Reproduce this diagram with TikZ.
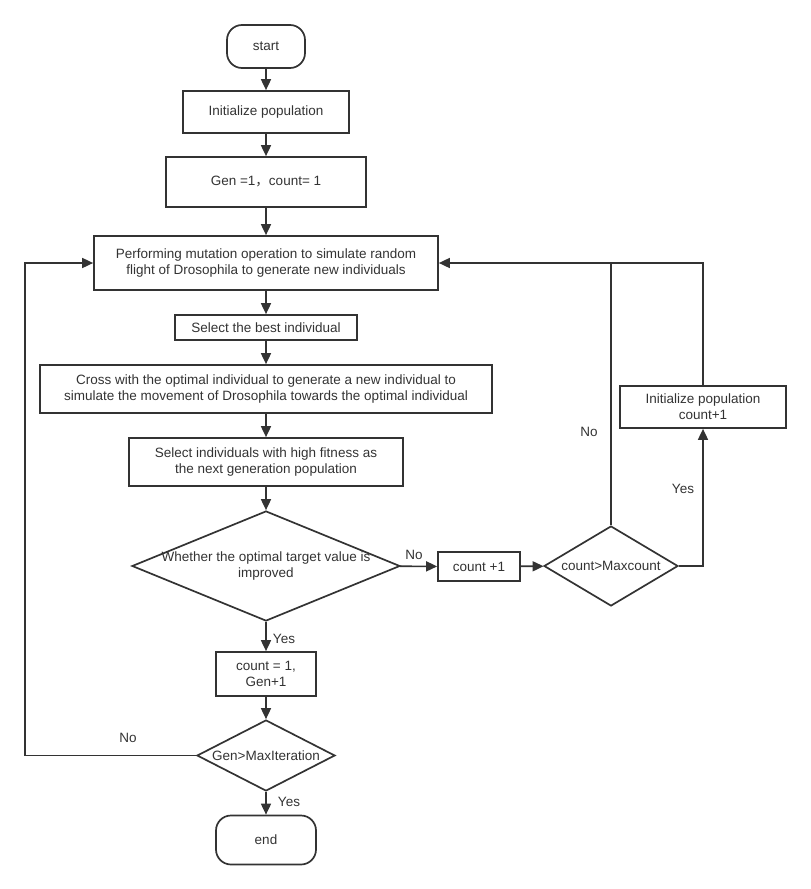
\documentclass[tikz,border=0pt]{standalone}
\usepackage{fontspec}
\setmainfont{Liberation Sans}
\newfontfamily\cjkfont{Noto Sans CJK SC}
\usetikzlibrary{shapes.geometric,arrows.meta}
\definecolor{ink}{HTML}{333333}
\begin{document}
\begin{tikzpicture}[x=1pt,y=-1pt,
  every node/.style={font=\fontsize{13.5}{16}\selectfont,text=ink},
  box/.style={draw=ink,line width=1.7pt,rectangle,inner sep=0pt,align=center},
  term/.style={draw=ink,line width=1.7pt,rectangle,rounded corners=15pt,inner sep=0pt,align=center},
  dia/.style={draw=ink,line width=1.7pt,diamond,inner sep=0pt},
  arr/.style={draw=ink,line width=1.7pt,-{Triangle[length=11pt,width=10pt]}},
  ln/.style={draw=ink,line width=1.7pt},
  lab/.style={font=\fontsize{13.5}{16}\selectfont,text=ink,inner sep=0pt}]
\useasboundingbox (0,0) rectangle (811,889);
\node[term,minimum width=78pt,minimum height=43pt] (start) at (266,46.5) {start};
\node[box,minimum width=166pt,minimum height=42pt] (init) at (266,112) {Initialize population};
\node[box,minimum width=200pt,minimum height=50pt] (gen) at (266,182) {Gen =1{\cjkfont ，}count= 1};
\node[box,minimum width=344pt,minimum height=54pt] (mut) at (266,263) {Performing mutation operation to simulate random\\flight of Drosophila to generate new individuals};
\node[box,minimum width=182pt,minimum height=25pt] (best) at (266,327.5) {Select the best individual};
\node[box,minimum width=452pt,minimum height=48pt] (cross) at (266,389) {Cross with the optimal individual to generate a new individual to\\simulate the movement of Drosophila towards the optimal individual};
\node[box,minimum width=274pt,minimum height=48pt] (sel) at (266,462) {Select individuals with high fitness as\\the next generation population};
\node[dia,minimum width=268pt,minimum height=110pt,label={[align=center,text=ink]center:Whether the optimal target value is\\improved}] (d1) at (266,566) {};
\node[box,minimum width=82pt,minimum height=29pt] (cnt) at (479,566.5) {count +1};
\node[dia,minimum width=134pt,minimum height=80pt,label={[text=ink]center:count>Maxcount}] (d2) at (611,566) {};
\node[box,minimum width=166pt,minimum height=42pt] (reinit) at (703,407) {Initialize population\\count+1};
\node[box,minimum width=100pt,minimum height=44pt] (reset) at (266,674) {count = 1,\\Gen+1};
\node[dia,minimum width=138pt,minimum height=71pt,label={[text=ink]center:Gen>MaxIteration}] (d3) at (266,755.5) {};
\node[term,minimum width=100pt,minimum height=49pt] (end) at (266,840) {end};
\coordinate (lc) at (25,755.5);
\coordinate (lt) at (25,263);
\coordinate (rc) at (703,263);
\coordinate (rj) at (611,263);
\coordinate (yc) at (703,566);
\draw[arr] (start) -- (init);
\draw[arr] (init) -- (gen);
\draw[arr] (gen) -- (mut);
\draw[arr] (mut) -- (best);
\draw[arr] (best) -- (cross);
\draw[arr] (cross) -- (sel);
\draw[arr] (sel) -- (d1);
\draw[arr] (d1) -- (cnt);
\draw[arr] (cnt) -- (d2);
\draw[arr] (d1) -- (reset);
\draw[arr] (reset) -- (d3);
\draw[arr] (d3) -- (end);
\draw[arr] (d3.west) -- (lc) -- (lt) -- (mut.west);
\draw[ln] (d2.north) -- (rj);
\draw[arr] (reinit.north) -- (rc) -- (mut.east);
\draw[arr] (d2.east) -- (yc) -- (reinit.south);
\node[lab] (l1) at (589,432) {No};
\node[lab] (l2) at (683,489) {Yes};
\node[lab] (l3) at (414,555) {No};
\node[lab] (l4) at (284,639) {Yes};
\node[lab] (l5) at (128,738) {No};
\node[lab] (l6) at (289,802) {Yes};
\end{tikzpicture}
\end{document}
